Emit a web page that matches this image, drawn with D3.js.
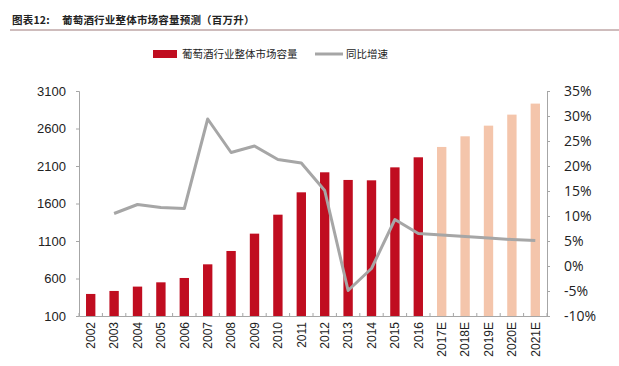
<!DOCTYPE html>
<head>
  <meta charset="utf-8">
  <style>
    body { margin: 0; background: #fff; }
    .title { font: bold 10.5px "Noto Sans CJK SC", sans-serif; fill: #222; letter-spacing: 0.2px; }
    .legend { font: 10.5px "Noto Sans CJK SC", sans-serif; fill: #222; }
    .axis text { fill: #222; }
    .axis .domain, .axis line { stroke: #a6a6a6; }
  </style>
  <script src="https://d3js.org/d3.v7.min.js"></script>
</head>

<body>
  <div id="content"></div>
  <script>
  // data
  var years = ["2002", "2003", "2004", "2005", "2006", "2007", "2008", "2009", "2010", "2011",
               "2012", "2013", "2014", "2015", "2016", "2017E", "2018E", "2019E", "2020E", "2021E"];
  var capacity = [394, 434, 492, 549, 607, 789, 967, 1198, 1451, 1749,
                  2016, 1914, 1909, 2082, 2216, 2354, 2496, 2638, 2785, 2932];
  var growth = [null, 10.5, 12.3, 11.7, 11.5, 29.4, 22.7, 24.0, 21.3, 20.6,
                15.1, -4.9, -0.5, 9.3, 6.5, 6.2, 5.9, 5.6, 5.3, 5.1];
  var leftTicks = [100, 600, 1100, 1600, 2100, 2600, 3100];
  var rightTicks = [-10, -5, 0, 5, 10, 15, 20, 25, 30, 35];

  var W = 619, H = 366;
  var margin = {top: 91, right: 72, bottom: 50, left: 79},
      width = W - margin.left - margin.right,
      height = H - margin.top - margin.bottom;

  var svg = d3.select("#content").append("svg")
      .attr("width", W)
      .attr("height", H);

  // title + rule
  svg.append("text").attr("class", "title")
      .attr("x", 12).attr("y", 24)
      .text("图表12:");
  svg.append("text").attr("class", "title")
      .attr("x", 62).attr("y", 24)
      .text("葡萄酒行业整体市场容量预测（百万升）");
  svg.append("line")
      .attr("x1", 10).attr("x2", W).attr("y1", 30).attr("y2", 30)
      .attr("stroke", "#9e7a7a").attr("stroke-width", 1);

  // legend
  var lg = svg.append("g").attr("class", "legend");
  lg.append("rect").attr("x", 153).attr("y", 50).attr("width", 24).attr("height", 8).attr("fill", "#c00d20");
  lg.append("text").attr("x", 182).attr("y", 58).text("葡萄酒行业整体市场容量");
  lg.append("line").attr("x1", 315).attr("x2", 343).attr("y1", 54).attr("y2", 54)
      .attr("stroke", "#a6a6a6").attr("stroke-width", 3);
  lg.append("text").attr("x", 346).attr("y", 58).text("同比增速");

  var g = svg.append("g")
      .attr("transform", "translate(" + margin.left + "," + margin.top + ")");

  var x = d3.scaleBand().domain(years).range([0, width]).paddingInner(0.6).paddingOuter(0.3);
  var y = d3.scaleLinear().domain([100, 3100]).range([height, 0]);
  var y2 = d3.scaleLinear().domain([-10, 35]).range([height, 0]);

  // bars
  g.selectAll(".bar")
      .data(years)
    .enter().append("rect")
      .attr("class", "bar")
      .attr("x", function(d) { return x(d); })
      .attr("width", x.bandwidth())
      .attr("y", function(d, i) { return y(capacity[i]); })
      .attr("height", function(d, i) { return height - y(capacity[i]); })
      .attr("fill", function(d) { return d.indexOf("E") > 0 ? "#f4c5ab" : "#c00d20"; });

  // growth line
  var line = d3.line()
      .defined(function(d) { return d.v !== null; })
      .x(function(d) { return x(d.k) + x.bandwidth() / 2; })
      .y(function(d) { return y2(d.v); });
  g.append("path")
      .datum(years.map(function(k, i) { return {k: k, v: growth[i]}; }))
      .attr("d", line)
      .attr("fill", "none")
      .attr("stroke", "#a6a6a6")
      .attr("stroke-width", 3)
      .attr("stroke-linejoin", "round");

  // left axis
  var la = g.append("g").attr("class", "axis")
      .call(d3.axisLeft(y).tickValues(leftTicks).tickSize(3).tickPadding(10)
              .tickFormat(d3.format("d")));
  la.selectAll("text").style("font", "13px 'Liberation Sans', Arial, sans-serif");

  // right axis
  var ra = g.append("g").attr("class", "axis")
      .attr("transform", "translate(" + width + ",0)")
      .call(d3.axisRight(y2).tickValues(rightTicks).tickSize(3).tickPadding(14)
              .tickFormat(function(d) { return d + "%"; }));
  ra.selectAll("text").style("font", "14px 'Open Sans', 'DejaVu Sans', sans-serif");

  // bottom axis, ticks between categories
  var step = x.step();
  var ba = g.append("g").attr("class", "axis")
      .attr("transform", "translate(0," + height + ")")
      .call(d3.axisBottom(x).tickSize(0).tickPadding(6));
  ba.selectAll(".tick text")
      .attr("transform", "rotate(-90)")
      .attr("x", -6).attr("y", 0).attr("dy", ".35em")
      .style("text-anchor", "end")
      .style("font", "12px 'Liberation Sans', Arial, sans-serif");
  ba.selectAll(".sep")
      .data(d3.range(years.length + 1))
    .enter().append("line")
      .attr("class", "sep")
      .attr("x1", function(i) { return i * step; })
      .attr("x2", function(i) { return i * step; })
      .attr("y1", 0).attr("y2", -3);
  </script>
</body>
</html>
